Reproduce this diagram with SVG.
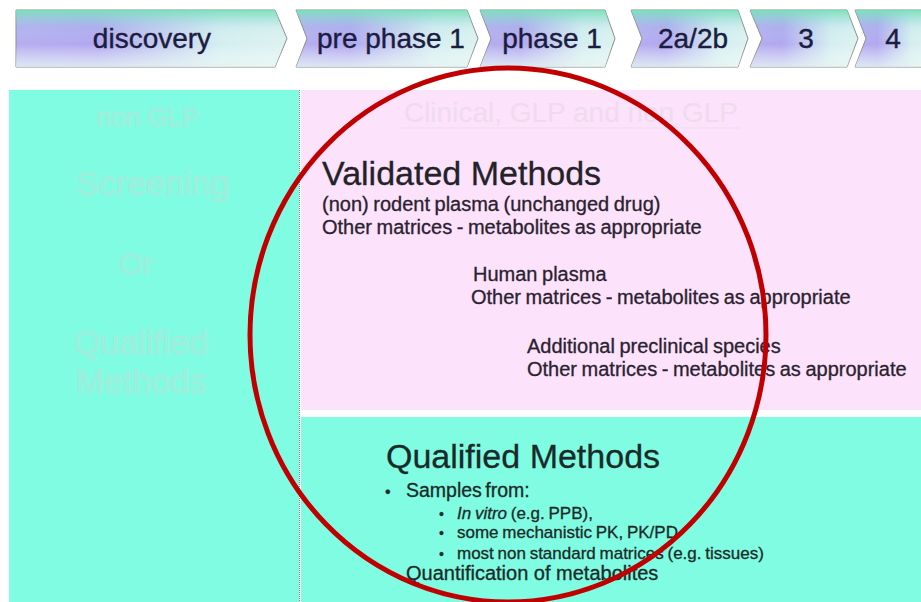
<svg xmlns="http://www.w3.org/2000/svg" width="921" height="602" viewBox="0 0 921 602">
<defs>
<linearGradient id="gH" x1="0" y1="0" x2="1" y2="0">
<stop offset="0" stop-color="#b4aef0"/>
<stop offset="0.3" stop-color="#b0a8f0"/>
<stop offset="0.75" stop-color="#d4eef0"/>
<stop offset="1" stop-color="#dcf2f0"/>
</linearGradient>
<linearGradient id="gV" x1="0" y1="0" x2="0" y2="1">
<stop offset="0" stop-color="#78e2b8" stop-opacity="0.95"/>
<stop offset="0.3" stop-color="#9ad8e0" stop-opacity="0.15"/>
<stop offset="0.6" stop-color="#ffffff" stop-opacity="0"/>
<stop offset="1" stop-color="#e6f6f2" stop-opacity="0.8"/>
</linearGradient>
<style>
.chev{stroke:#8a8a8a;stroke-width:1}
.ct{font-family:"Liberation Sans",Arial,sans-serif;font-size:28px;fill:#1c1c40;stroke:#1c1c40;stroke-width:0.4;text-anchor:middle}
.fade{font-family:"Liberation Sans",Arial,sans-serif;fill:#96f2dc;stroke:#a6ecdc;stroke-width:0.8;text-anchor:middle}
.h{font-family:"Liberation Sans",Arial,sans-serif;font-size:34px;fill:#222228;stroke:#222228;stroke-width:0.3}
.b{font-family:"Liberation Sans",Arial,sans-serif;font-size:20px;fill:#2a2230;stroke:#2a2230;stroke-width:0.3;word-spacing:-1px}
.q{font-family:"Liberation Sans",Arial,sans-serif;fill:#1a2a28;stroke:#1a2a28;stroke-width:0.3}
</style>
</defs>
<rect width="921" height="602" fill="#ffffff"/>

<g id="phase-bar">
<g id="discovery">
<path class="chev" fill="url(#gH)" d="M16,10 L275,10 L287,38.5 L275,67 L16,67 Z"/>
<path fill="url(#gV)" d="M16,10 L275,10 L287,38.5 L275,67 L16,67 Z"/>
<text class="ct" x="152" y="48">discovery</text>
</g>
<g id="pre-phase-1">
<path class="chev" fill="url(#gH)" d="M296,10 L467,10 L478,38.5 L467,67 L296,67 L307,38.5 Z"/>
<path fill="url(#gV)" d="M296,10 L467,10 L478,38.5 L467,67 L296,67 L307,38.5 Z"/>
<text class="ct" x="391" y="48">pre phase 1</text>
</g>
<g id="phase-1">
<path class="chev" fill="url(#gH)" d="M480,10 L605,10 L615,38.5 L605,67 L480,67 L491,38.5 Z"/>
<path fill="url(#gV)" d="M480,10 L605,10 L615,38.5 L605,67 L480,67 L491,38.5 Z"/>
<text class="ct" x="552" y="48">phase 1</text>
</g>
<g id="phase-2a2b">
<path class="chev" fill="url(#gH)" d="M631,10 L738,10 L748,38.5 L738,67 L631,67 L642,38.5 Z"/>
<path fill="url(#gV)" d="M631,10 L738,10 L748,38.5 L738,67 L631,67 L642,38.5 Z"/>
<text class="ct" x="693" y="48">2a/2b</text>
</g>
<g id="phase-3">
<path class="chev" fill="url(#gH)" d="M750,10 L847,10 L858,38.5 L847,67 L750,67 L762,38.5 Z"/>
<path fill="url(#gV)" d="M750,10 L847,10 L858,38.5 L847,67 L750,67 L762,38.5 Z"/>
<text class="ct" x="806" y="48">3</text>
</g>
<g id="phase-4">
<path class="chev" fill="url(#gH)" d="M855,10 L930,10 L930,67 L855,67 L866,38.5 Z"/>
<path fill="url(#gV)" d="M855,10 L930,10 L930,67 L855,67 L866,38.5 Z"/>
<text class="ct" x="893" y="48">4</text>
</g>
</g>

<g id="left-panel">
<rect x="9" y="90" width="290" height="512" fill="#80fce2"/>
<text class="fade" x="148" y="126" font-size="26">non GLP</text>
<text class="fade" x="153" y="195" font-size="34">Screening</text>
<text class="fade" x="136" y="274" font-size="30">Or</text>
<text class="fade" x="141" y="354" font-size="34">Qualified</text>
<text class="fade" x="141" y="393" font-size="34">Methods</text>
</g>

<g id="validated-panel">
<rect x="301" y="90" width="620" height="320" fill="#fce2fa"/>
<text x="571" y="122" font-family="Liberation Sans, Arial, sans-serif" font-size="28" fill="#eedcee" text-anchor="middle">Clinical, GLP and non GLP</text>
<line x1="402" y1="128" x2="741" y2="128" stroke="#eedcee" stroke-width="1.2"/>
<text class="h" x="322" y="185">Validated Methods</text>
<text class="b" x="322" y="211">(non) rodent plasma (unchanged drug)</text>
<text class="b" x="322" y="234">Other matrices - metabolites as appropriate</text>
<text class="b" x="473" y="281">Human plasma</text>
<text class="b" x="471" y="304">Other matrices - metabolites as appropriate</text>
<text class="b" x="527" y="353">Additional preclinical species</text>
<text class="b" x="527" y="376">Other matrices - metabolites as appropriate</text>
</g>

<rect x="301" y="410" width="620" height="7" fill="#ffffff"/>

<g id="qualified-panel">
<rect x="301" y="417" width="620" height="185" fill="#80fce2"/>
<text class="q" x="386" y="468" font-size="34">Qualified Methods</text>
<text class="q" x="385" y="497" font-size="16">•</text>
<text class="q" x="406" y="497" font-size="19.5" word-spacing="-2">Samples from:</text>
<text class="q" x="439" y="519" font-size="14">•</text>
<text class="q" x="457" y="519" font-size="17" word-spacing="-1"><tspan font-style="italic">In vitro</tspan> (e.g. PPB),</text>
<text class="q" x="439" y="538" font-size="14">•</text>
<text class="q" x="457" y="538" font-size="17" word-spacing="-1">some mechanistic PK, PK/PD</text>
<text class="q" x="439" y="559" font-size="14">•</text>
<text class="q" x="457" y="559" font-size="17" word-spacing="-1">most non standard matrices (e.g. tissues)</text>
<text class="q" x="406" y="580" font-size="20">Quantification of metabolites</text>
</g>

<line id="divider" x1="299.5" y1="90" x2="299.5" y2="602" stroke="#888888" stroke-width="1" stroke-dasharray="1,1"/>

<g id="connectors">
<ellipse cx="508" cy="335" rx="258" ry="267" fill="none" stroke="#c00000" stroke-width="5"/>
</g>
</svg>
